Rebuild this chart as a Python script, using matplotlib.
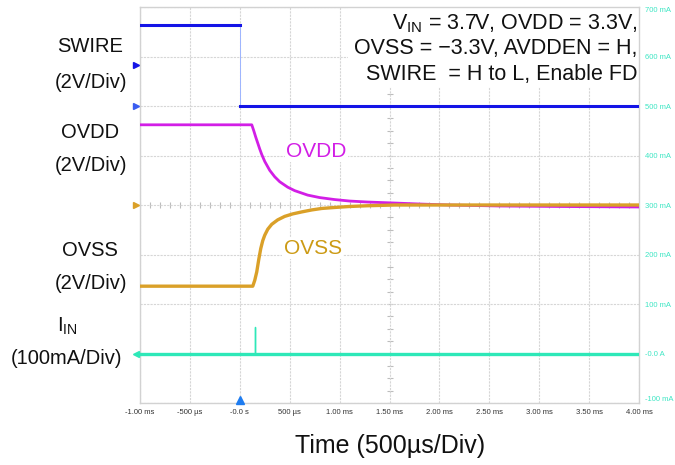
import numpy as np
import matplotlib.pyplot as plt
from matplotlib.patches import Rectangle

plt.rcParams['font.family'] = ['Liberation Sans', 'DejaVu Sans']

# time in ms, channel values on the scope's mA scale (100 per division)
swire_t = [-1.0, 0.0, 0.0, 4.0]
swire_v = [664, 664, 500, 500]

ovdd_t = [-1.0, 0.12, 0.14, 0.16, 0.18, 0.20, 0.22, 0.25, 0.30, 0.35, 0.40, 0.48,
          0.55, 0.68, 0.80, 0.95, 1.10, 1.28, 1.55, 1.80, 2.10, 2.60, 3.20, 4.0]
ovdd_v = [462, 462, 450, 437, 425, 413, 402, 388, 370, 357, 347, 336,
          329, 320, 315, 311, 308, 306, 304, 302, 300, 298, 297, 296]

ovss_t = [-1.0, 0.13, 0.15, 0.17, 0.19, 0.21, 0.23, 0.25, 0.28, 0.32, 0.38, 0.45,
          0.53, 0.62, 0.72, 0.82, 0.95, 1.10, 1.28, 1.55, 4.0]
ovss_v = [136, 136, 148, 165, 190, 212, 228, 239, 251, 261, 270, 277,
          282, 286, 290, 293, 295, 297, 298.5, 300, 300]

iin_t = [-1.0, 0.15, 0.15, 0.155, 0.155, 4.0]
iin_v = [0, 0, 54, 54, 0, 0]

xtick_vals = [-1.0, -0.5, 0.0, 0.5, 1.0, 1.5, 2.0, 2.5, 3.0, 3.5, 4.0]
xtick_labels = ['-1.00 ms', '-500 µs', '-0.0 s', '500 µs', '1.00 ms', '1.50 ms',
                '2.00 ms', '2.50 ms', '3.00 ms', '3.50 ms', '4.00 ms']
ytick_vals = [-100, 0, 100, 200, 300, 400, 500, 600, 700]
ytick_labels = ['-100 mA', '-0.0 A', '100 mA', '200 mA', '300 mA', '400 mA',
                '500 mA', '600 mA', '700 mA']

BLUE = '#1414e6'
MAGENTA = '#d21ee6'
ORANGE = '#daa028'
CYAN = '#2ee8b8'
LABEL_CYAN = '#3ee6c4'

fig = plt.figure(figsize=(6.75, 4.65), dpi=100)
ax = fig.add_axes([140 / 675, 1 - 403 / 465, 499 / 675, 396 / 465])
ax.set_xlim(-1.0, 4.0)
ax.set_ylim(-100, 700)

ax.set_xticks(xtick_vals)
ax.set_xticklabels(xtick_labels)
ax.set_yticks(ytick_vals)
ax.set_yticklabels(ytick_labels)
ax.yaxis.tick_right()
ax.tick_params(axis='x', length=0, labelsize=5.5, labelcolor='#333333', pad=4)
ax.tick_params(axis='y', length=0, labelsize=5.5, labelcolor=LABEL_CYAN, pad=4)
ylabels = ax.get_yticklabels()
ylabels[-1].set_va('top')
ylabels[0].set_va('bottom')

ax.grid(True, color='#d6d6d6', linestyle=(0, (2, 1)), linewidth=0.8, zorder=0)
for s in ax.spines.values():
    s.set_color('#d2d2d2')
    s.set_linewidth(1.0)

# center cross sub-division ticks
sub_x = np.arange(-1.0, 4.01, 0.1)
ax.plot(sub_x, np.full_like(sub_x, 300), ls='none', marker='|', ms=4,
        mew=0.8, color='#bdbdbd', zorder=1)
sub_y = np.arange(-100, 701, 25)
ax.plot(np.full_like(sub_y, 1.5, dtype=float), sub_y, ls='none', marker='_', ms=4,
        mew=0.8, color='#bdbdbd', zorder=1)

# white label box in the upper right
ax.add_patch(Rectangle((0.417, 0.798), 0.583, 0.202, transform=ax.transAxes,
                       facecolor='white', edgecolor='none', zorder=2))

# traces
ax.plot([0, 0], [664, 500], color='#9db4ff', lw=0.7, zorder=3)
ax.plot(swire_t[:2], swire_v[:2], color=BLUE, lw=2.2, zorder=4)
ax.plot(swire_t[2:], swire_v[2:], color=BLUE, lw=2.2, zorder=4)
ax.plot(ovdd_t, ovdd_v, color=MAGENTA, lw=2.0, zorder=4)
ax.plot(ovss_t, ovss_v, color=ORANGE, lw=2.4, zorder=5)
ax.plot(iin_t, iin_v, color=CYAN, lw=1.0, zorder=4)
ax.plot([-1.0, 4.0], [0, 0], color=CYAN, lw=2.4, zorder=5)

ax.text(0.77, 409, 'OVDD', color=MAGENTA, fontsize=15, ha='center', va='center',
        zorder=6, bbox=dict(facecolor='white', edgecolor='none', pad=1))
ax.text(0.73, 213, 'OVSS', color='#cc9a14', fontsize=15, ha='center', va='center',
        zorder=6, bbox=dict(facecolor='white', edgecolor='none', pad=1))

# channel markers and trigger position
ax.plot([-1.04], [583], marker='>', ms=5, color=BLUE, clip_on=False, zorder=6)
ax.plot([-1.04], [500], marker='>', ms=5, color='#3a5cf0', clip_on=False, zorder=6)
ax.plot([-1.04], [300], marker='>', ms=5, color=ORANGE, clip_on=False, zorder=6)
ax.plot([-1.04], [0], marker='<', ms=5, color=CYAN, clip_on=False, zorder=6)
ax.plot([0.0], [-94], marker='^', ms=6, color='#1e7cf0', clip_on=False, zorder=6)

# conditions
cond = ['V$_{\\mathregular{IN}}$ = 3.7V, OVDD = 3.3V,',
        'OVSS = \u22123.3V, AVDDEN = H,',
        'SWIRE  = H to L, Enable FD']
for yf, line in zip([0.958, 0.894, 0.829], cond):
    ax.text(0.996, yf, line, transform=ax.transAxes, fontsize=15.5, ha='right',
            va='center', color='#111111', zorder=6)

# channel names on the left
left = [('SWIRE', 90, 47), ('(2V/Div)', 91, 82), ('OVDD', 90, 132), ('(2V/Div)', 91, 165),
        ('OVSS', 90, 250), ('(2V/Div)', 91, 283), ('I$_{\\mathregular{IN}}$', 67, 326),
        ('(100mA/Div)', 67, 358)]
for txt, x, y in left:
    fig.text(x / 675, 1 - y / 465, txt, fontsize=14.5, ha='center', va='center',
             color='#111111')

fig.text(390 / 675, 1 - 446 / 465, 'Time (500µs/Div)', fontsize=18, ha='center',
         va='center', color='#111111')

fig.savefig('out.png', dpi=100)
